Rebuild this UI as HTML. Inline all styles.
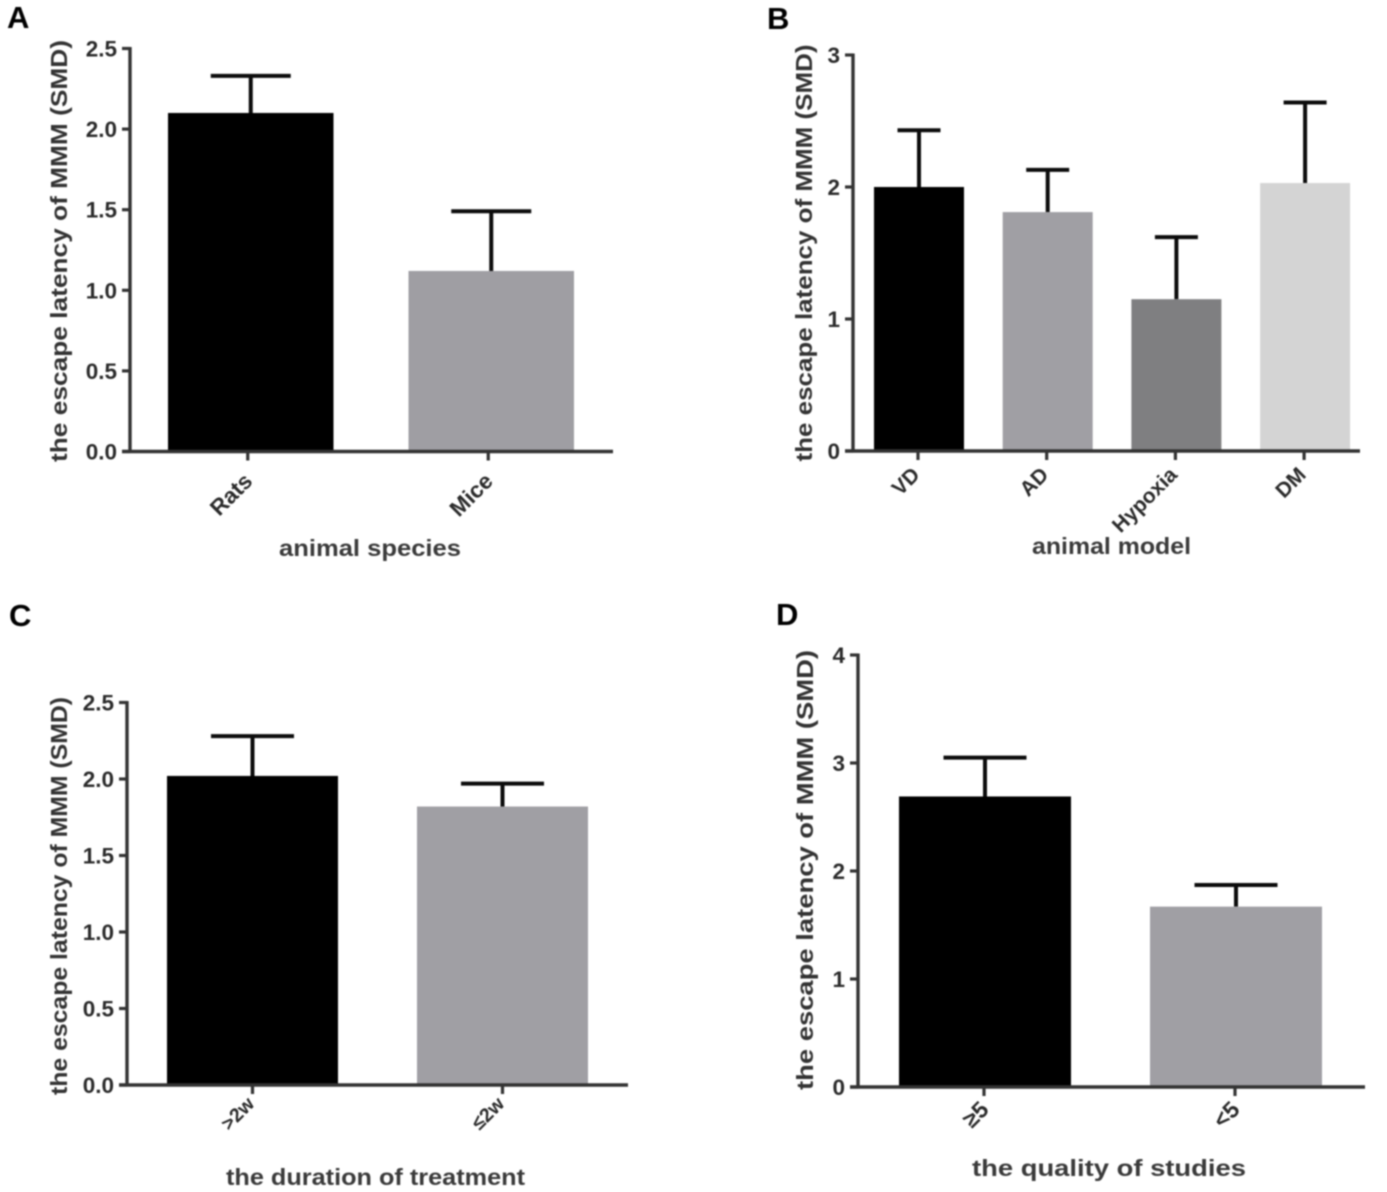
<!DOCTYPE html>
<html lang="en">
<head>
<meta charset="utf-8">
<title>Escape latency of MMM by subgroup</title>
<style>
html,body{margin:0;padding:0;background:#fff;width:1387px;height:1192px;overflow:hidden}
svg{display:block;filter:blur(0.85px)}
text{font-family:"Liberation Sans",Arial,sans-serif;font-weight:bold;fill:#2b2b2b}
</style>
</head>
<body>
<svg id="figure" width="1387" height="1192" viewBox="0 0 1387 1192" xmlns="http://www.w3.org/2000/svg"></svg>
<script>
const panelACategories = ['Rats', 'Mice'];
const panelAMeans = [2.10, 1.12];
const panelAUpper = [2.33, 1.49];
const panelATicks = ['0.0', '0.5', '1.0', '1.5', '2.0', '2.5'];

const panelBCategories = ['VD', 'AD', 'Hypoxia', 'DM'];
const panelBMeans = [2.00, 1.81, 1.15, 2.03];
const panelBUpper = [2.43, 2.13, 1.62, 2.64];
const panelBTicks = ['0', '1', '2', '3'];

const panelCCategories = ['>2w', '≤2w'];
const panelCMeans = [2.02, 1.82];
const panelCUpper = [2.28, 1.97];
const panelCTicks = ['0.0', '0.5', '1.0', '1.5', '2.0', '2.5'];

const panelDCategories = ['≥5', '<5'];
const panelDMeans = [2.69, 1.67];
const panelDUpper = [3.05, 1.87];
const panelDTicks = ['0', '1', '2', '3', '4'];

const NS = 'http://www.w3.org/2000/svg';
const figure = document.getElementById('figure');

function make(parent, tag, attrs, content) {
  const el = document.createElementNS(NS, tag);
  for (const k in attrs) el.setAttribute(k, attrs[k]);
  if (content !== undefined) el.textContent = content;
  parent.appendChild(el);
  return el;
}

function drawPanel(p) {
  const g = make(figure, 'g', {});
  
  

  const domainMax = Number(p.ticks[p.ticks.length - 1]);
  const yScale = v => p.y0 - (v / domainMax) * (p.y0 - p.y1);
  const bandLeft = i => p.barLeft + i * p.step;
  const barCentre = i => bandLeft(i) + p.barWidth / 2;
  const tickCentre = i => barCentre(i) + p.tickShift;

  const letter = make(g, 'text', {x: p.letterX, y: p.letterY, 'font-size': 31, style: 'fill:#000'}, p.letter);
  
  

  p.means.forEach((m, i) => {
    const err = make(g, 'path', {
      d: 'M' + barCentre(i) + ' ' + yScale(m) + 'V' + yScale(p.upper[i]) +
         'M' + (barCentre(i) - p.capWidth / 2) + ' ' + yScale(p.upper[i]) + 'H' + (barCentre(i) + p.capWidth / 2),
      stroke: '#0c0c0c', 'stroke-width': 4, fill: 'none'
    });
    
    
    const bar = make(g, 'rect', {
      x: bandLeft(i), y: yScale(m), width: p.barWidth, height: p.y0 - yScale(m), fill: p.fills[i]
    });
    
    
  });

  const yAxis = make(g, 'line', {x1: p.x0, x2: p.x0, y1: p.y1 - 1.5, y2: p.y0 + 1.5, stroke: '#333', 'stroke-width': 3.4});
  
  
  const xAxis = make(g, 'line', {x1: p.x0 - 8, x2: p.xEnd, y1: p.y0, y2: p.y0, stroke: '#333', 'stroke-width': 3.4});
  
  

  p.ticks.forEach(t => {
    const v = Number(t);
    const tick = make(g, 'line', {x1: p.x0 - 8, x2: p.x0, y1: yScale(v), y2: yScale(v), stroke: '#333', 'stroke-width': 3.2});
    
    
    const label = make(g, 'text', {x: p.x0 - 13, y: yScale(v) + 8, 'font-size': 22.5, 'text-anchor': 'end'}, t);
    
    
  });

  p.categories.forEach((c, i) => {
    const tick = make(g, 'line', {x1: tickCentre(i), x2: tickCentre(i), y1: p.y0, y2: p.y0 + 9, stroke: '#333', 'stroke-width': 3.2});
    
    
    const label = make(g, 'text', {
      'font-size': p.catSize, 'text-anchor': 'end',
      transform: 'translate(' + (tickCentre(i) + p.catDx) + ' ' + (p.y0 + p.catDy) + ') rotate(-45)'
    }, c);
    
    
  });

  const yTitle = make(g, 'text', {
    'font-size': 23, 'text-anchor': 'middle', textLength: p.yTitleLen, lengthAdjust: 'spacingAndGlyphs',
    transform: 'translate(' + p.yTitleX + ' ' + p.yTitleY + ') rotate(-90)', style: 'fill:#333'
  }, 'the escape latency of MMM (SMD)');
  
  

  const xTitle = make(g, 'text', {
    x: p.xTitleX, y: p.xTitleY, 'font-size': 23, 'text-anchor': 'middle', textLength: p.xTitleLen,
    lengthAdjust: 'spacingAndGlyphs', style: 'fill:#3a3a3a'
  }, p.xTitle);
  
  
}

drawPanel({
  letter: 'A', letterX: 7, letterY: 28,
  categories: panelACategories, means: panelAMeans, upper: panelAUpper, ticks: panelATicks,
  fills: ['#000000', '#9f9ea3'],
  x0: 130, xEnd: 613, y0: 451.5, y1: 48.5,
  barLeft: 168, barWidth: 165.5, step: 240.5, capWidth: 80, tickShift: -3,
  catSize: 22.5, catDx: 6, catDy: 31,
  yTitleX: 67, yTitleY: 251, yTitleLen: 422,
  xTitle: 'animal species', xTitleX: 370, xTitleY: 556, xTitleLen: 182
});
drawPanel({
  letter: 'B', letterX: 767, letterY: 29,
  categories: panelBCategories, means: panelBMeans, upper: panelBUpper, ticks: panelBTicks,
  fills: ['#000000', '#a09fa4', '#7f7f81', '#d4d4d4'],
  x0: 853, xEnd: 1360, y0: 451, y1: 55,
  barLeft: 874, barWidth: 90, step: 128.7, capWidth: 43, tickShift: -1,
  catSize: 21, catDx: 3, catDy: 25,
  yTitleX: 812, yTitleY: 253, yTitleLen: 417,
  xTitle: 'animal model', xTitleX: 1111.5, xTitleY: 554, xTitleLen: 159
});
drawPanel({
  letter: 'C', letterX: 9, letterY: 626,
  categories: panelCCategories, means: panelCMeans, upper: panelCUpper, ticks: panelCTicks,
  fills: ['#000000', '#a09fa4'],
  x0: 127, xEnd: 628, y0: 1085, y1: 702.5,
  barLeft: 167, barWidth: 171, step: 250, capWidth: 83, tickShift: 0,
  catSize: 19.5, catDx: 3, catDy: 20,
  yTitleX: 67, yTitleY: 896, yTitleLen: 398,
  xTitle: 'the duration of treatment', xTitleX: 375.5, xTitleY: 1185, xTitleLen: 299
});
drawPanel({
  letter: 'D', letterX: 776, letterY: 625,
  categories: panelDCategories, means: panelDMeans, upper: panelDUpper, ticks: panelDTicks,
  fills: ['#000000', '#a09fa4'],
  x0: 858, xEnd: 1365, y0: 1087, y1: 655,
  barLeft: 899, barWidth: 172, step: 251, capWidth: 83, tickShift: -1,
  catSize: 23, catDx: 6, catDy: 24,
  yTitleX: 813, yTitleY: 870, yTitleLen: 440,
  xTitle: 'the quality of studies', xTitleX: 1109, xTitleY: 1176, xTitleLen: 274
});
</script>
</body>
</html>
